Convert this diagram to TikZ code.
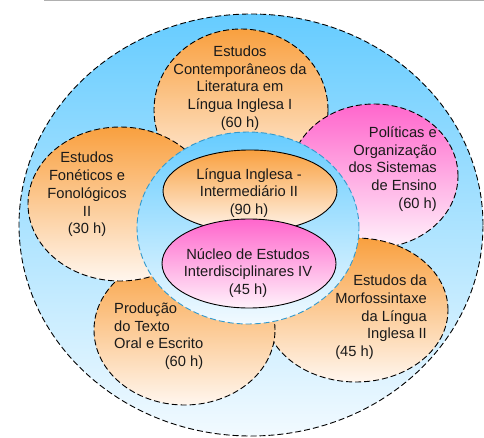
\documentclass[tikz,border=0pt]{standalone}
\usepackage{fontspec}
\setmainfont{Liberation Sans}
\definecolor{orTop}{HTML}{F9A03F}
\definecolor{orBot}{HTML}{FFF6EE}
\definecolor{pkTop}{HTML}{FF66CC}
\definecolor{pkBot}{HTML}{FFF2FB}
\definecolor{blTop}{HTML}{66CCFF}
\definecolor{blBot}{HTML}{F2FAFF}
\definecolor{inEdge}{HTML}{3399CC}
\definecolor{txt}{HTML}{1A1A1A}
\definecolor{rule}{HTML}{B0B0B0}
\begin{document}
\begin{tikzpicture}[x=1pt,y=-1pt,
  dashedge/.style={draw=black,line width=0.9pt,dash pattern=on 6pt off 3pt},
  orangefill/.style={top color=orTop,bottom color=orBot},
  pinkfill/.style={top color=pkTop,bottom color=pkBot},
  bluefill/.style={top color=blTop,bottom color=blBot},
  label/.style={inner sep=0pt,text=txt,font=\fontsize{14.7}{17.7}\selectfont}]
\useasboundingbox (0,0) rectangle (484,438);
\draw[rule,line width=1.2pt] (44,0.6) -- (484,0.6);
% outer
\path[bluefill,dashedge] (251,225) ellipse [x radius=232pt,y radius=211pt];
% top circle
\path[orangefill,dashedge] (241,110) ellipse [x radius=87pt,y radius=81pt];
% right pink
\path[pinkfill,dashedge] (374,176) ellipse [x radius=84pt,y radius=72pt];
% bottom right
\path[orangefill,dashedge] (356,310) ellipse [x radius=92pt,y radius=72pt];
% bottom left
\path[orangefill,dashedge] (184.5,330) ellipse [x radius=90.5pt,y radius=75pt];
% left
\path[orangefill,dashedge] (120,204) ellipse [x radius=92pt,y radius=77pt];
% inner circle
\path[bluefill,draw=inEdge,line width=0.9pt,dash pattern=on 6pt off 3pt] (248,228) ellipse [x radius=111pt,y radius=96pt];
% center ellipses
\path[orangefill,draw=black,line width=0.9pt] (250,191) ellipse [x radius=87pt,y radius=41pt];
\path[pinkfill,draw=black,line width=0.9pt] (249,263.5) ellipse [x radius=87pt,y radius=44.5pt];
% texts
\node[label,align=center] (t1) at (240,88) {Estudos\\Contemporâneos da\\Literatura em\\Língua Inglesa I\\(60 h)};
\node[label,align=right,anchor=east] (t2) at (437,169) {Políticas e\\Organização\\dos Sistemas\\de Ensino\\(60 h)};
\node[label,align=center] (t3) at (87,194.5) {Estudos\\Fonéticos e\\Fonológicos\\II\\(30 h)};
\node[label,align=center] (t4) at (249,193) {Língua Inglesa -\\Intermediário II\\(90 h)};
\node[label,align=center] (t5) at (248,273) {Núcleo de Estudos\\Interdisciplinares IV\\(45 h)};
\node[label,anchor=west] (t6) at (114,336.5) {\begin{tabular}{@{}l@{}}Produção\\do Texto\\Oral e Escrito\\\hfill(60 h)\end{tabular}};
\node[label,anchor=east] (t7) at (427,317.5) {\begin{tabular}{@{}r@{}}Estudos da\\Morfossintaxe\\da Língua\\Inglesa II\\(45 h)\hfill\mbox{}\end{tabular}};
\end{tikzpicture}
\end{document}
